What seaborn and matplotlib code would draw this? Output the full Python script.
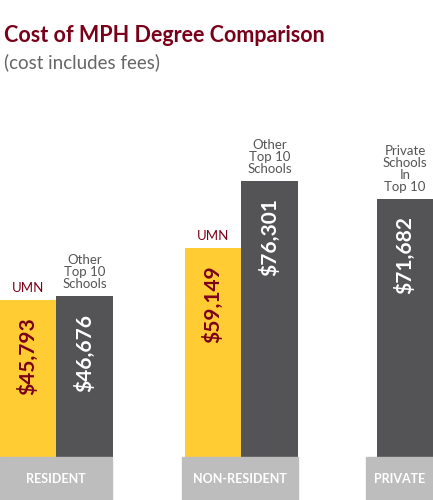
import matplotlib
matplotlib.use('Agg')
import matplotlib.pyplot as plt
import seaborn as sns
import pandas as pd

# data
groups = ['RESIDENT', 'RESIDENT', 'NON-RESIDENT', 'NON-RESIDENT', 'PRIVATE']
schools = ['UMN', 'Other', 'UMN', 'Other', 'Other']
costs = [45793, 46676, 59149, 76301, 71682]
top_labels = ['UMN', 'Other\nTop 10\nSchools', 'UMN', 'Other\nTop 10\nSchools',
              'Private\nSchools\nIn\nTop 10']
group_names = ['RESIDENT', 'NON-RESIDENT', 'PRIVATE']

# layout (pixel units along x)
bar_pos = [28, 84.5, 213, 269.5, 405]
group_boxes = [(0, 112), (182, 298), (366, 433)]

MAROON = '#7a0019'
GOLD = '#ffcc33'
DARK = '#545456'
BOXGRAY = '#bdbdbd'

sns.set_theme(style='white')
plt.rcParams['font.family'] = ['Lato', 'DejaVu Sans']

df = pd.DataFrame({'pos': bar_pos, 'cost': costs, 'school': schools})

fig = plt.figure(figsize=(4.33, 5.0), dpi=100)
ax = fig.add_axes([0, 43 / 500, 1, 357 / 500])
sns.barplot(data=df, x='pos', y='cost', hue='school', native_scale=True,
            dodge=False, width=1.0, palette={'UMN': GOLD, 'Other': DARK},
            legend=False, ax=ax, linewidth=0, saturation=1)
ax.set_xlim(0, 433)
ax.set_ylim(5500, 97000)
ax.axis('off')

for x, v, s, lab in zip(bar_pos, costs, schools, top_labels):
    col = MAROON if s == 'UMN' else 'white'
    ax.text(x, v - 4500, f'${v:,}', rotation=90, ha='center', va='top',
            color=col, fontsize=15, fontweight='bold')
    ax.text(x, v + 1500, lab, ha='center', va='bottom', fontsize=9.5,
            color=MAROON if s == 'UMN' else '#555555', linespacing=1.0)

for (x0, x1), name in zip(group_boxes, group_names):
    fig.patches.append(plt.Rectangle((x0 / 433, 0), (x1 - x0) / 433, 43 / 500,
                                     transform=fig.transFigure, color=BOXGRAY))
    fig.text((x0 + x1) / 2 / 433, 21 / 500, name, ha='center', va='center',
             color='white', fontsize=9, fontweight='bold')

fig.text(4 / 433, 1 - 35 / 500, 'Cost of MPH Degree Comparison', color=MAROON,
         fontsize=15.5, fontweight='bold', va='center')
fig.text(4 / 433, 1 - 62 / 500, '(cost includes fees)', color='#666666',
         fontsize=13.5, va='center')

fig.savefig('out.png', dpi=100)
